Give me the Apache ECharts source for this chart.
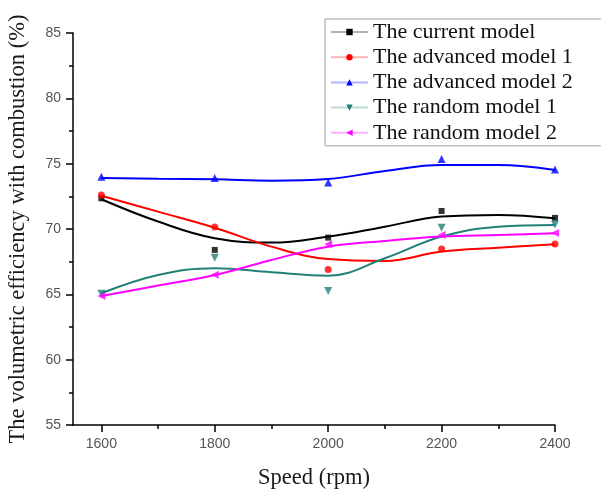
<!DOCTYPE html>
<html>
<head>
<meta charset="utf-8">
<script src="https://cdn.jsdelivr.net/npm/echarts@6/dist/echarts.min.js"></script>
<style>
  html, body { margin: 0; padding: 0; background: #fff; }
  #chart { width: 601px; height: 492px; }
</style>
</head>
<body>
<div id="chart"></div>
<script>
// Engine speeds (rpm) where the efficiency was measured
const speeds = [1600, 1800, 2000, 2200, 2400];
// Speeds at which the fitted curves are sampled
const curveSpeeds = [1600, 1700, 1800, 1900, 2000, 2100, 2200, 2300, 2400];
const xTicks = [1600, 1800, 2000, 2200, 2400];
const xMinorTicks = [1700, 1900, 2100, 2300];

const modelNames = [
  'The current model',
  'The advanced model 1',
  'The advanced model 2',
  'The random model 1',
  'The random model 2'
];

// Measured volumetric efficiency with combustion (%)
const currentMeasured   = [72.35, 68.4, 69.34, 71.38, 70.85];
const advanced1Measured = [72.6, 70.15, 66.9, 68.47, 68.85];
const advanced2Measured = [74.0, 73.9, 73.55, 75.36, 74.55];
const random1Measured   = [65.05, 67.8, 65.25, 70.1, 70.35];
const random2Measured   = [64.88, 66.5, 68.83, 69.54, 69.7];

// Fitted curves (%)
const currentFit   = [72.28, 70.57, 69.29, 68.96, 69.42, 70.18, 70.95, 71.08, 70.82];
const advanced1Fit = [72.55, 71.33, 70.1, 68.65, 67.7, 67.55, 68.27, 68.57, 68.83];
const advanced2Fit = [73.9, 73.85, 73.8, 73.7, 73.83, 74.44, 74.9, 74.9, 74.52];
const random1Fit   = [65.08, 66.48, 67.0, 66.69, 66.43, 67.76, 69.42, 70.18, 70.31];
const random2Fit   = [64.88, 65.67, 66.48, 67.63, 68.65, 69.09, 69.42, 69.54, 69.67];

const measured = [currentMeasured, advanced1Measured, advanced2Measured, random1Measured, random2Measured];
const fitted = [currentFit, advanced1Fit, advanced2Fit, random1Fit, random2Fit];

const colors = ['#000000', '#ff0000', '#0000ff', '#218078', '#ff00ff'];
const symbols = ['rect', 'circle', 'triangle', 'triangle', 'triangle'];
const symbolRotations = [0, 0, 0, 180, 90];
const symbolSizes = [6, 7, 8, 8, 8];

const serifFont = '"Liberation Serif", "DejaVu Serif", serif';
const sansFont = '"Liberation Sans", Arial, sans-serif';

const pair = (xs, ys) => xs.map((x, i) => [x, ys[i]]);

const lineSeries = fitted.map((ys, i) => ({
  name: modelNames[i],
  type: 'line',
  xAxisIndex: 0,
  data: pair(curveSpeeds, ys),
  smooth: 0.4,
  showSymbol: false,
  symbol: symbols[i],
  symbolSize: symbolSizes[i] - 1,
  symbolRotate: symbolRotations[i],
  color: colors[i],
  lineStyle: { width: 2, color: colors[i] },
  z: 2,
  silent: true
}));

const pointSeries = measured.map((ys, i) => ({
  name: modelNames[i],
  type: 'scatter',
  xAxisIndex: 0,
  data: pair(speeds, ys),
  symbol: symbols[i],
  symbolSize: symbolSizes[i],
  symbolRotate: symbolRotations[i],
  itemStyle: { color: colors[i] },
  z: 3,
  silent: true
}));

const chart = echarts.init(document.getElementById('chart'), null, { renderer: 'canvas' });

chart.setOption({
  animation: false,
  backgroundColor: '#ffffff',
  grid: { left: 73, right: 46, top: 33, bottom: 67, containLabel: false, outerBoundsMode: 'none' },
  legend: {
    data: modelNames,
    orient: 'vertical',
    left: 325,
    top: 19,
    padding: [2, 80, 2, 5],
    itemGap: 3.2,
    itemWidth: 37,
    itemHeight: 8,
    borderColor: '#a0a0a0',
    borderWidth: 1,
    symbolRotate: 'inherit',
    lineStyle: { opacity: 0.3 },
    textStyle: { fontFamily: serifFont, fontSize: 22, color: '#111111', padding: [0, 0, 0, 0] }
  },
  xAxis: [
    {
      type: 'value',
      min: 1550,
      max: 2400,
      name: 'Speed (rpm)',
      nameLocation: 'middle',
      nameGap: 42,
      nameTextStyle: { fontFamily: serifFont, fontSize: 22.5, color: '#1a1a1a' },
      axisLine: { show: true, onZero: false, lineStyle: { color: '#000', width: 1.5 } },
      axisTick: { show: true, length: 7, customValues: xTicks, lineStyle: { color: '#000', width: 1.5 } },
      axisLabel: {
        customValues: xTicks,
        formatter: (v) => String(v),
        margin: 12, fontFamily: sansFont, fontSize: 14, color: '#555555'
      },
      splitLine: { show: false }
    },
    {
      type: 'value',
      min: 1550,
      max: 2400,
      position: 'bottom',
      axisLine: { show: false },
      axisTick: { show: true, length: 4, customValues: xMinorTicks, lineStyle: { color: '#000', width: 1.5 } },
      axisLabel: { show: false },
      splitLine: { show: false }
    }
  ],
  yAxis: {
    type: 'value',
    min: 55,
    max: 85,
    interval: 5,
    name: 'The volumetric efficiency with combustion (%)',
    nameLocation: 'middle',
    nameGap: 43,
    nameTextStyle: { fontFamily: serifFont, fontSize: 22.5, color: '#1a1a1a' },
    axisLine: { show: true, onZero: false, lineStyle: { color: '#000', width: 1.5 } },
    axisTick: { show: true, length: 7, lineStyle: { color: '#000', width: 1.5 } },
    minorTick: { show: true, splitNumber: 2, length: 4, lineStyle: { color: '#000', width: 1.5 } },
    axisLabel: { margin: 12, fontFamily: sansFont, fontSize: 14, color: '#555555' },
    splitLine: { show: false }
  },
  series: lineSeries.concat(pointSeries)
});
</script>
</body>
</html>
